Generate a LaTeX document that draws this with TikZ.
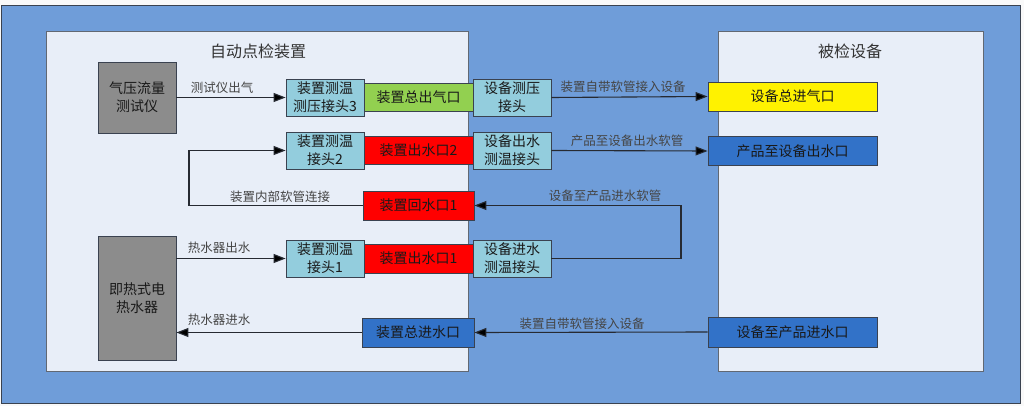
\documentclass[tikz,border=0pt]{standalone}
\usepackage{fontspec}
\setmainfont{Noto Sans CJK SC}
\usetikzlibrary{arrows.meta}
\definecolor{outerblue}{HTML}{6F9DD9}
\definecolor{panel}{HTML}{E8EEF8}
\definecolor{ltblue}{HTML}{93CDDD}
\definecolor{boxgray}{HTML}{8C8C8C}
\definecolor{grn}{HTML}{92D050}
\definecolor{dkblue}{HTML}{3272C8}
\definecolor{edgec}{HTML}{3A4250}
\definecolor{linec}{HTML}{262A32}
\definecolor{lblc}{HTML}{454545}
\tikzset{
  box/.style={draw=edgec, line width=0.9pt, inner sep=0pt, align=center,
    text=black!90, font=\fontsize{14}{18}\selectfont},
  joint/.style={box, fill=ltblue, minimum width=78pt, minimum height=37pt},
  port/.style={box, minimum width=109pt, minimum height=28pt},
  devport/.style={box, minimum width=169pt, minimum height=29pt},
  panelbox/.style={draw=edgec!80, line width=1pt, fill=panel},
  title/.style={font=\fontsize{16}{18}\selectfont, text=black!80},
  lbl/.style={font=\fontsize{12.5}{14}\selectfont, text=lblc, inner sep=0pt},
  arr/.style={draw=linec, line width=1.1pt, -{Triangle[length=12pt,width=9pt,fill=black]}}
}
\begin{document}
\begin{tikzpicture}[x=1pt,y=-1pt]
\useasboundingbox (0,0) rectangle (1024,406);
\fill[white!95!gray] (0,0) rectangle (1024,406);
% outer frame
\draw[fill=outerblue, draw=edgec, line width=1pt] (1,6) rectangle (1020,403);
% panels
\draw[panelbox] (46,32) rectangle (468,371);
\draw[panelbox] (718,32) rectangle (983,371);
\node[title] (t1) at (258,51) {自动点检装置};
\node[title] (t2) at (850,51) {被检设备};
% big gray boxes
\node[box, fill=boxgray, minimum width=78pt, minimum height=71pt] (gas) at (137,97.5) {气压流量\\测试仪};
\node[box, fill=boxgray, minimum width=78pt, minimum height=124pt] (heater) at (137,298) {即热式电\\热水器};
% row 1
\node[joint] (j3) at (325,97.5) {装置测温\\测压接头3};
\node[port, fill=grn] (g1) at (418.5,97.5) {装置总出气口};
\node[joint] (d1) at (512,97.5) {设备测压\\接头};
\node[devport, fill=yellow] (y1) at (792.5,96.5) {设备总进气口};
% row 2
\node[joint] (j2) at (325,150.5) {装置测温\\接头2};
\node[port, fill=red] (r2) at (418.5,150.5) {装置出水口2};
\node[joint] (d2) at (512,150.5) {设备出水\\测温接头};
\node[devport, fill=dkblue] (b2) at (792.5,151) {产品至设备出水口};
% row 3
\node[port, fill=red, minimum width=111pt, minimum height=29pt] (r3) at (418.5,205.5) {装置回水口1};
% row 4
\node[joint] (j1) at (325,258.5) {装置测温\\接头1};
\node[port, fill=red, minimum height=29pt] (r1) at (418.5,258.5) {装置出水口1};
\node[joint] (d3) at (512,258.5) {设备进水\\测温接头};
% row 5
\node[port, fill=dkblue, minimum width=112pt, minimum height=29pt] (b5) at (418,332.5) {装置总进水口};
\node[devport, fill=dkblue, minimum height=30pt] (b6) at (792.5,332) {设备至产品进水口};
% helper coordinates
\coordinate (lx) at (189,0);
\coordinate (rx) at (681,0);
% connectors
\draw[arr] (gas.east) -- (j3.west);
\draw[arr] (d1.east) -- (y1.west);
\draw[arr] (d2.east) -- (b2.west);
\draw[arr] (r3.west) -- (r3.west -| lx) |- (j2.west);
\draw[arr] (d3.east) -| (rx |- r3.east) -- (r3.east);
\draw[arr] (heater.east |- j1.west) -- (j1.west);
\draw[arr] (b6.west) -- (b5.east);
\draw[arr] (b5.west) -- (heater.east |- b5.west);
% labels
\node[lbl] (l1) at (222,88) {测试仪出气};
\node[lbl] (l2) at (623,87) {装置自带软管接入设备};
\node[lbl] (l3) at (627,141) {产品至设备出水软管};
\node[lbl] (l4) at (280,196.5) {装置内部软管连接};
\node[lbl] (l5) at (605,196) {设备至产品进水软管};
\node[lbl] (l6) at (219,248) {热水器出水};
\node[lbl] (l7) at (219,320) {热水器进水};
\node[lbl] (l8) at (582,324) {装置自带软管接入设备};
\end{tikzpicture}
\end{document}
